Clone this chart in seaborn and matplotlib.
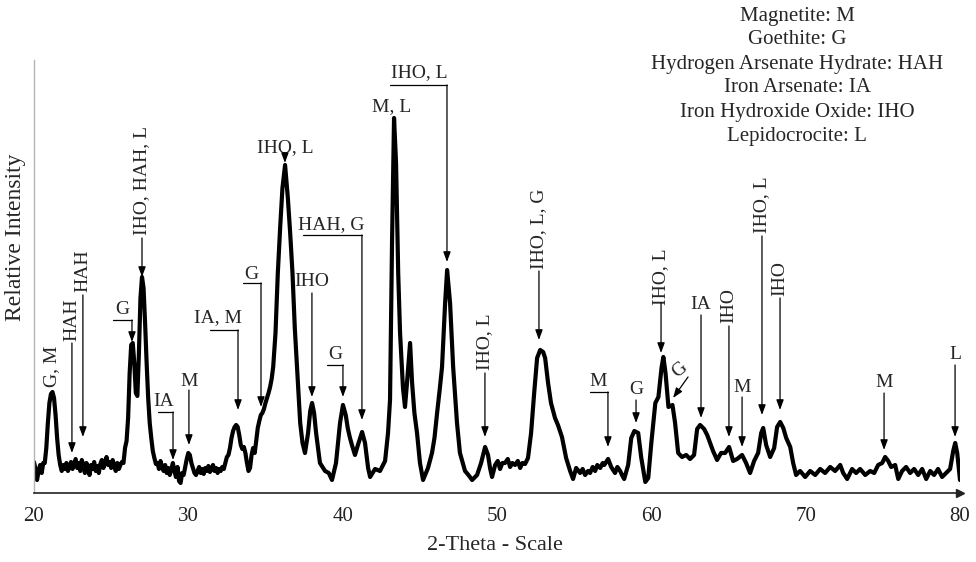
import matplotlib
matplotlib.use("Agg")
import matplotlib.pyplot as plt
import seaborn as sns

# XRD pattern: 2-theta (deg) and relative intensity (a.u.)
theta = [
    20.0, 20.1, 20.2, 20.3, 20.4, 20.5, 20.6, 20.7, 20.8, 20.9,
    21.0, 21.1, 21.2, 21.3, 21.4, 21.5, 21.6, 21.7, 21.8, 21.9,
    22.0, 22.1, 22.2, 22.3, 22.4, 22.5, 22.6, 22.7, 22.8, 22.9,
    23.0, 23.1, 23.2, 23.3, 23.4, 23.5, 23.6, 23.7, 23.8, 23.9,
    24.0, 24.1, 24.2, 24.3, 24.4, 24.5, 24.6, 24.7, 24.8, 24.9,
    25.0, 25.1, 25.2, 25.3, 25.4, 25.5, 25.6, 25.7, 25.8, 25.9,
    26.0, 26.1, 26.2, 26.3, 26.4, 26.5, 26.6, 26.7, 26.8, 26.9,
    27.0, 27.1, 27.2, 27.3, 27.4, 27.5, 27.6, 27.7, 27.8, 27.9,
    28.0, 28.1, 28.2, 28.3, 28.4, 28.5, 28.6, 28.7, 28.8, 28.9,
    29.0, 29.1, 29.2, 29.3, 29.4, 29.5, 29.6, 29.7, 29.8, 29.9,
    30.0, 30.1, 30.2, 30.3, 30.4, 30.5, 30.6, 30.7, 30.8, 30.9,
    31.0, 31.1, 31.2, 31.3, 31.4, 31.5, 31.6, 31.7, 31.8, 31.9,
    32.0, 32.1, 32.2, 32.3, 32.4, 32.5, 32.6, 32.7, 32.8, 32.9,
    33.0, 33.1, 33.2, 33.3, 33.4, 33.5, 33.6, 33.7, 33.8, 33.9,
    34.0, 34.1, 34.2, 34.3, 34.4, 34.5, 34.6, 34.7, 34.8, 34.9,
    35.0, 35.1, 35.2, 35.3, 35.4, 35.5, 35.65, 35.8, 35.95, 36.1,
    36.27, 36.45, 36.6, 36.75, 36.9, 37.05, 37.25, 37.4, 37.56, 37.76,
    37.9, 38.02, 38.15, 38.28, 38.53, 38.86, 39.1, 39.31, 39.57, 39.83,
    40.02, 40.2, 40.33, 40.46, 40.6, 40.8, 40.99, 41.26, 41.45, 41.65,
    41.78, 42.1, 42.42, 42.75, 42.94, 43.07, 43.2, 43.33, 43.46, 43.6,
    43.72, 43.91, 44.04, 44.17, 44.37, 44.5, 44.65, 44.82, 45.01, 45.21,
    45.53, 45.79, 45.95, 46.12, 46.3, 46.44, 46.64, 46.77, 46.96, 47.16,
    47.41, 47.6, 47.93, 48.15, 48.39, 48.71, 48.97, 49.23, 49.42, 49.55,
    49.68, 49.88, 50.05, 50.2, 50.35, 50.52, 50.7, 50.85, 51.0, 51.17,
    51.35, 51.5, 51.65, 51.82, 52.01, 52.21, 52.41, 52.6, 52.8, 52.99,
    53.12, 53.31, 53.5, 53.76, 53.95, 54.21, 54.48, 54.74, 54.93, 55.13,
    55.39, 55.55, 55.71, 55.9, 56.03, 56.2, 56.36, 56.5, 56.69, 56.85,
    56.95, 57.2, 57.4, 57.65, 57.8, 57.98, 58.1, 58.24, 58.5, 58.7,
    58.9, 59.15, 59.35, 59.61, 59.8, 60.0, 60.26, 60.46, 60.66, 60.78,
    60.92, 61.11, 61.37, 61.54, 61.74, 61.99, 62.26, 62.51, 62.77, 62.97,
    63.16, 63.42, 63.62, 63.81, 64.0, 64.26, 64.52, 64.78, 65.04, 65.3,
    65.56, 65.88, 66.14, 66.4, 66.66, 66.92, 67.12, 67.25, 67.44, 67.7,
    67.96, 68.15, 68.35, 68.55, 68.74, 69.0, 69.19, 69.38, 69.64, 69.97,
    70.29, 70.62, 70.94, 71.26, 71.59, 71.91, 72.24, 72.43, 72.69, 73.01,
    73.27, 73.53, 73.86, 74.18, 74.44, 74.7, 74.96, 75.15, 75.35, 75.54,
    75.8, 76.0, 76.25, 76.51, 76.77, 77.03, 77.29, 77.55, 77.81, 78.07,
    78.32, 78.58, 78.84, 79.1, 79.36, 79.56, 79.69, 79.82, 80.0,
]
intensity = [
    31, 24, 13, 22, 28, 20, 30, 30, 45, 70,
    90, 99, 101, 95, 78, 55, 38, 28, 22, 28,
    24, 30, 22, 26, 31, 24, 29, 34, 25, 30,
    22, 33, 28, 20, 30, 26, 18, 28, 24, 31,
    22, 27, 20, 29, 33, 25, 30, 36, 28, 31,
    25, 33, 27, 22, 30, 24, 28, 31, 30, 45,
    52, 75, 120, 148, 150, 130, 100, 97, 140, 195,
    216, 205, 170, 130, 95, 70, 55, 42, 35, 29,
    30, 24, 32, 26, 22, 28, 20, 25, 18, 24,
    30, 22, 16, 26, 12, 10, 20, 18, 26, 34,
    40, 38, 30, 25, 20, 18, 22, 26, 20, 24,
    19, 25, 22, 27, 21, 24, 28, 22, 25, 20,
    24, 22, 26, 24, 30, 36, 38, 45, 55, 62,
    66, 68, 66, 58, 48, 44, 46, 40, 30, 22,
    25, 38, 45, 40, 52, 65, 72, 78, 80, 84,
    90, 95, 100, 106, 114, 126, 160, 220, 265, 305,
    328, 295, 260, 220, 165, 125, 70, 50, 40, 60,
    82, 90, 80, 60, 30, 22, 20, 13, 30, 70,
    88, 78, 65, 56, 48, 38, 48, 61, 50, 25,
    16, 24, 22, 32, 60, 93, 250, 375, 330, 220,
    160, 105, 86, 110, 150, 110, 80, 60, 30, 13,
    25, 40, 55, 80, 105, 126, 190, 223, 190, 126,
    70, 40, 22, 18, 13, 18, 30, 46, 38, 25,
    16, 28, 32, 24, 30, 30, 34, 26, 30, 28,
    32, 25, 30, 29, 35, 60, 100, 135, 143, 141,
    135, 110, 90, 75, 68, 56, 35, 22, 14, 25,
    20, 24, 18, 22, 20, 26, 22, 28, 25, 30,
    28, 34, 26, 20, 26, 22, 18, 14, 28, 55,
    62, 60, 35, 11, 15, 50, 90, 96, 125, 136,
    120, 86, 88, 70, 40, 36, 38, 34, 38, 64,
    68, 64, 58, 50, 42, 33, 40, 40, 46, 32,
    34, 38, 30, 20, 32, 40, 60, 65, 48, 36,
    45, 66, 71, 65, 55, 46, 30, 18, 22, 16,
    22, 18, 24, 20, 26, 22, 28, 20, 14, 24,
    20, 24, 18, 22, 20, 28, 30, 36, 32, 26,
    28, 14, 22, 26, 20, 24, 18, 24, 14, 22,
    18, 24, 16, 20, 24, 42, 50, 40, 13,
]

phases = [
    "Magnetite: M",
    "Goethite: G",
    "Hydrogen Arsenate Hydrate: HAH",
    "Iron Arsenate: IA",
    "Iron Hydroxide Oxide: IHO",
    "Lepidocrocite: L",
]

peak_labels = [
    "G, M", "HAH", "HAH", "G", "IHO, HAH, L", "IA", "M", "IA, M", "G",
    "IHO, L", "IHO", "G", "HAH, G", "M, L", "IHO, L", "IHO, L", "IHO, L, G",
    "M", "G", "IHO, L", "G", "IA", "IHO", "M", "IHO, L", "IHO", "M", "L",
]
peak_theta = [
    21.17, 22.46, 23.17, 26.35, 27.0, 29.01, 30.04, 33.22, 34.71,
    36.26, 38.01, 40.02, 41.25, 43.2, 46.76, 49.22, 52.72,
    57.19, 59.01, 60.63, 61.41, 63.22, 65.03, 65.88, 67.17, 68.34, 75.08, 79.68,
]

# label placement: kind, text x, text y, line start y, arrow tip y, line start x
layout = [
    ("vtext", None, 127, None, None, None),
    ("v", None, 173, 150, 40, None),
    ("v", None, 222, 198, 56, None),
    ("elbow", 25.70, 183, 173, 151, 25.12),
    ("v", None, 312, 255, 216, None),
    ("elbow", 28.42, 91, 81, 33, 28.03),
    ("h", None, 111, 103, 48, None),
    ("elbow", 31.92, 175, 163, 83, 31.40),
    ("elbow", 34.06, 218, 210, 86, 33.54),
    ("h", None, 345, 337, 330, None),
    ("h", None, 211, 200, 96, None),
    ("elbow", 39.50, 138, 128, 96, 38.99),
    ("elbow", 39.24, 268, 258, 73, 37.43),
    ("htext", None, 386, None, None, None),
    ("elbow", 44.95, 420, 408, 231, 43.07),
    ("v", None, 151, 120, 56, None),
    ("v", None, 264, 222, 153, None),
    ("elbow", 56.55, 111, 101, 46, 56.03),
    ("h", None, 103, 93, 70, None),
    ("v", None, 216, 190, 140, None),
    ("tilt", 61.86, 123, 116, 95, 62.38),
    ("h", None, 188, 178, 75, None),
    ("v", None, 187, 167, 56, None),
    ("h", None, 105, 96, 46, None),
    ("v", None, 288, 257, 78, None),
    ("v", None, 214, 195, 83, None),
    ("h", None, 110, 100, 43, None),
    ("h", None, 138, 128, 56, None),
]

sns.set_style("white")
plt.rcParams["font.family"] = ["Liberation Serif", "DejaVu Serif"]

fig = plt.figure(figsize=(9.76, 5.62), dpi=100)
ax = fig.add_axes([0.0348, 0.1228, 0.9488, 0.7705])

sns.lineplot(x=theta, y=intensity, ax=ax, color="black", linewidth=3.0,
             sort=False, estimator=None)

ax.set_xlim(20, 80)
ax.set_ylim(0, 433)
ax.set_xticks(range(20, 81, 10))
ax.set_xticks(range(20, 81, 1), minor=True)
ax.set_yticks([])
ax.tick_params(axis="x", which="major", length=7, width=1, direction="out",
               labelsize=15, pad=3, colors="#222222")
ax.tick_params(axis="x", which="minor", length=5, width=0.8, direction="out",
               colors="#222222")
for s in ["top", "right"]:
    ax.spines[s].set_visible(False)
ax.spines["left"].set_color("#b5b5b5")
ax.spines["left"].set_linewidth(1)
ax.spines["bottom"].set_color("#222222")
ax.spines["bottom"].set_linewidth(1.2)
ax.plot([1], [0], marker=">", ms=6, color="#222222",
        transform=ax.transAxes, clip_on=False)
ax.set_xlabel("")
ax.set_ylabel("")

fig.text(0.507, 0.030, "2-Theta - Scale", ha="center", va="center", fontsize=16)
fig.text(0.0154, 0.578, "Relative Intensity", ha="center", va="center",
         rotation=90, fontsize=17)

for i, line in enumerate(phases):
    fig.text(0.8166, 1 - (16 + 24 * i) / 562, line, ha="center", va="center",
             fontsize=15)

# peak labels with leader arrows
fs = 14
lw = 0.9
arrow_kw = dict(arrowstyle="-|>,head_length=0.6,head_width=0.22", lw=lw,
                color="black", shrinkA=0, shrinkB=0)


def arrow(x0, y0, x1, y1):
    ax.annotate("", xy=(x1, y1), xytext=(x0, y0), arrowprops=arrow_kw)


for lab, px, (kind, tx, ty, y0, ytip, x0) in zip(peak_labels, peak_theta, layout):
    if kind == "vtext":
        ax.text(px, ty, lab, rotation=90, ha="center", va="center", fontsize=fs)
    elif kind == "htext":
        ax.text(px, ty, lab, ha="center", va="center", fontsize=fs)
    elif kind == "v":
        ax.text(px, ty, lab, rotation=90, ha="center", va="center", fontsize=fs)
        arrow(px, y0, px, ytip)
    elif kind == "h":
        ax.text(px, ty, lab, ha="center", va="center", fontsize=fs)
        arrow(px, y0, px, ytip)
    elif kind == "elbow":
        ax.text(tx, ty, lab, ha="center", va="center", fontsize=fs)
        ax.plot([x0, px], [y0, y0], color="black", lw=lw)
        arrow(px, y0, px, ytip)
    elif kind == "tilt":
        ax.text(tx, ty, lab, rotation=40, ha="center", va="center", fontsize=fs)
        arrow(x0, y0, px, ytip)

fig.savefig("out.png", dpi=100)
